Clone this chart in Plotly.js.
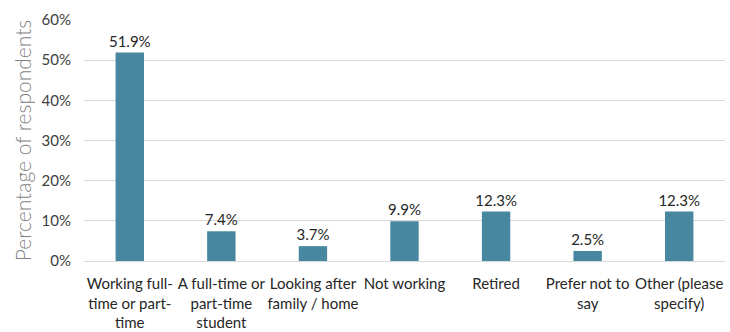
<!DOCTYPE html>
<html><head><meta charset="utf-8">
<script src="https://cdn.plot.ly/plotly-3.0.1.min.js"></script>
<style>body{margin:0;background:#fff}#chart{width:730px;height:332px}</style>
</head><body><div id="chart"></div>
<script>
const categories = ["Working full-<br>time or part-<br>time","A full-time or<br>part-time<br>student","Looking after<br>family / home","Not working","Retired","Prefer not to<br>say","Other (please<br>specify)"];
const values = [51.9, 7.4, 3.7, 9.9, 12.3, 2.5, 12.3];
const labels = values.map(v => v.toFixed(1) + "%");
const tickVals = [0,10,20,30,40,50,60];
const tickText = tickVals.map(v => v + "%");
const font = "Lato, Carlito, sans-serif";
Plotly.newPlot("chart", [{
  type: "bar", x: categories, y: values, text: labels, textposition: "outside",
  cliponaxis: false, constraintext: "none",
  textfont: {family: font, size: 15, color: "#262626"},
  marker: {color: "#4787a0"}, hoverinfo: "none"
}], {
  width: 730, height: 332,
  margin: {l: 84, r: 5, t: 20, b: 71},
  bargap: 0.69,
  paper_bgcolor: "#fff", plot_bgcolor: "#fff",
  showlegend: false,
  xaxis: {tickfont: {family: font, size: 15, color: "#262626"}, tickangle: 0, showline: true, linecolor: "#d9d9d9", ticks: "", ticklabelstandoff: 9, automargin: false},
  yaxis: {range: [0, 60], tickvals: tickVals, ticktext: tickText, gridcolor: "#d9d9d9", zeroline: false,
    tickfont: {family: font, size: 15, color: "#404040"}, ticks: "", ticklabelstandoff: 12,
    title: {text: "Percentage of respondents", font: {family: font, size: 21, weight: 300, color: "#7f7f7f"}, standoff: 4}, automargin: false}
}, {displayModeBar: false, staticPlot: true});
</script></body></html>
